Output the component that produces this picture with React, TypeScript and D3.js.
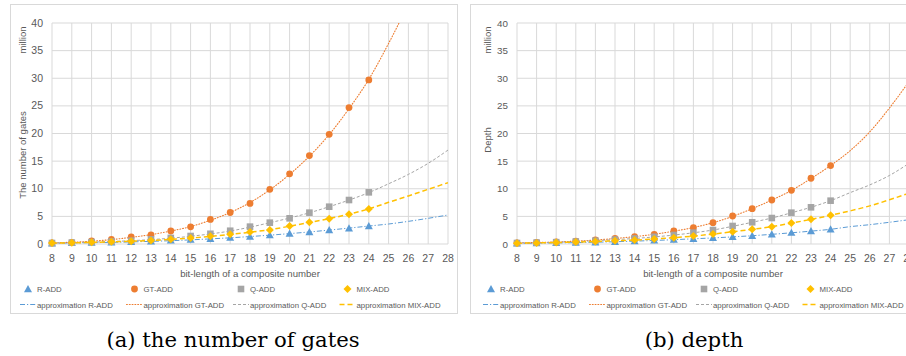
import React from "react";
import * as d3 from "d3";

// bit-lengths with measured values, and the range of the approximations
const bitsMeasured = [8, 9, 10, 11, 12, 13, 14, 15, 16, 17, 18, 19, 20, 21, 22, 23, 24];
const bitsApprox = [8, 9, 10, 11, 12, 13, 14, 15, 16, 17, 18, 19, 20, 21, 22, 23, 24, 25, 26, 27, 28];
const xTicks = bitsApprox;
const yTicks = [0, 5, 10, 15, 20, 25, 30, 35, 40];

// (a) number of gates, million
const gatesR = [0.14, 0.2, 0.25, 0.3, 0.4, 0.5, 0.65, 0.8, 0.95, 1.15, 1.35, 1.6, 1.9, 2.17, 2.53, 2.84, 3.26];
const gatesGT = [0.2, 0.3, 0.55, 0.85, 1.3, 1.65, 2.35, 3.1, 4.45, 5.7, 7.35, 9.9, 12.7, 16.0, 19.85, 24.7, 29.7];
const gatesQ = [0.18, 0.25, 0.35, 0.45, 0.6, 0.85, 1.1, 1.45, 1.85, 2.4, 3.14, 3.86, 4.65, 5.67, 6.75, 7.96, 9.35];
const gatesMIX = [0.16, 0.22, 0.3, 0.4, 0.5, 0.65, 0.85, 1.1, 1.4, 1.75, 2.17, 2.53, 3.26, 3.93, 4.58, 5.37, 6.33];
const gatesApproxR = [0.15, 0.19, 0.24, 0.3, 0.38, 0.48, 0.6, 0.75, 0.93, 1.12, 1.35, 1.6, 1.88, 2.18, 2.52, 2.88, 3.25, 3.62, 4.1, 4.65, 5.25];
const gatesApproxGT = [0.2, 0.32, 0.5, 0.8, 1.2, 1.7, 2.35, 3.15, 4.3, 5.7, 7.5, 9.8, 12.6, 15.9, 19.8, 24.5, 29.8, 36.3, 43.5, 51.5, 60];
const gatesApproxQ = [0.17, 0.24, 0.33, 0.45, 0.6, 0.8, 1.05, 1.4, 1.82, 2.35, 3.05, 3.85, 4.7, 5.65, 6.75, 7.95, 9.3, 10.9, 12.6, 14.6, 17.0];
const gatesApproxMIX = [0.15, 0.21, 0.29, 0.38, 0.5, 0.64, 0.84, 1.08, 1.38, 1.73, 2.13, 2.6, 3.22, 3.9, 4.6, 5.4, 6.35, 7.55, 8.7, 9.9, 11.1];

// (b) depth, million
const depthR = [0.12, 0.16, 0.2, 0.26, 0.33, 0.42, 0.52, 0.65, 0.8, 0.95, 1.1, 1.3, 1.5, 1.75, 2.05, 2.35, 2.66];
const depthGT = [0.2, 0.27, 0.38, 0.5, 0.72, 1.03, 1.33, 1.75, 2.35, 2.96, 3.86, 5.07, 6.4, 7.96, 9.72, 11.9, 14.2];
const depthQ = [0.18, 0.25, 0.33, 0.45, 0.6, 0.8, 1.0, 1.3, 1.63, 2.05, 2.53, 3.26, 3.93, 4.7, 5.67, 6.64, 7.84];
const depthMIX = [0.15, 0.2, 0.28, 0.36, 0.45, 0.58, 0.72, 0.9, 1.15, 1.45, 1.81, 2.23, 2.66, 3.14, 3.8, 4.47, 5.19];
const depthApproxR = [0.12, 0.15, 0.2, 0.25, 0.32, 0.41, 0.52, 0.64, 0.78, 0.94, 1.1, 1.29, 1.5, 1.75, 2.03, 2.33, 2.66, 3.14, 3.5, 3.93, 4.4];
const depthApproxGT = [0.2, 0.27, 0.37, 0.52, 0.72, 1.0, 1.33, 1.76, 2.32, 2.98, 3.85, 5.0, 6.4, 7.95, 9.7, 11.85, 14.2, 16.9, 20.3, 24.6, 29.4];
const depthApproxQ = [0.17, 0.24, 0.33, 0.44, 0.6, 0.79, 1.0, 1.28, 1.62, 2.03, 2.53, 3.2, 3.93, 4.7, 5.65, 6.65, 7.84, 9.3, 10.7, 12.4, 14.6];
const depthApproxMIX = [0.14, 0.19, 0.27, 0.35, 0.45, 0.57, 0.72, 0.9, 1.14, 1.43, 1.8, 2.22, 2.66, 3.14, 3.78, 4.45, 5.19, 6.0, 6.9, 8.0, 9.2];

const seriesNames = ["R-ADD", "GT-ADD", "Q-ADD", "MIX-ADD"];
const colors = ["#5B9BD5", "#ED7D31", "#A5A5A5", "#FFC000"];
const dashes = ["5,2,1.2,2", "0.9,1.9", "3,2", "5,3"];
const widths = [1, 1.1, 1, 1.5];
const markers = ["triangle", "circle", "square", "diamond"];

const FONT = "'Liberation Sans', Arial, sans-serif";
const TEXT = "#595959";

function Marker({ kind, x, y, color }: { kind: string; x: number; y: number; color: string }) {
  if (kind === "circle") return <circle cx={x} cy={y} r={3.4} fill={color} />;
  if (kind === "square") return <rect x={x - 3.3} y={y - 3.3} width={6.6} height={6.6} fill={color} />;
  if (kind === "diamond")
    return <path d={`M${x},${y - 4}L${x + 4},${y}L${x},${y + 4}L${x - 4},${y}Z`} fill={color} />;
  return <path d={`M${x},${y - 4}L${x + 4},${y + 3.2}L${x - 4},${y + 3.2}Z`} fill={color} />;
}

type PanelProps = {
  id: string;
  bx: number;
  plotX0: number;
  plotX1: number;
  yTitle: string;
  yTitleY: number;
  caption: string;
  captionX: number;
  measured: number[][];
  approx: number[][];
  yLabelSize: number;
  legendOffset: number;
};

function Panel(p: PanelProps) {
  const x = d3.scaleLinear().domain([8, 28]).range([p.plotX0, p.plotX1]);
  const y = d3.scaleLinear().domain([0, 40]).range([244, 23]);
  const line = d3
    .line<number>()
    .x((_, i) => x(bitsApprox[i]))
    .y((d) => y(d))
    .curve(d3.curveMonotoneX);
  const bw = 447;
  const cx = (p.plotX0 + p.plotX1) / 2;
  return (
    <g>
      <defs>
        <clipPath id={`clip-${p.id}`}>
          <rect x={p.plotX0} y={23} width={p.plotX1 - p.plotX0} height={221} />
        </clipPath>
      </defs>
      <rect x={p.bx + 0.5} y={4.5} width={bw} height={309} fill="#fff" stroke="#D9D9D9" />
      {/* grid */}
      {yTicks.map((t) => (
        <line key={"h" + t} x1={p.plotX0} x2={p.plotX1} y1={y(t)} y2={y(t)} stroke="#D9D9D9" />
      ))}
      {xTicks.map((t) => (
        <line key={"v" + t} x1={x(t)} x2={x(t)} y1={23} y2={244} stroke="#D9D9D9" />
      ))}
      {/* tick labels */}
      {yTicks.map((t) => (
        <text key={"yl" + t} x={p.plotX0 - 9} y={y(t) + 3.6} textAnchor="end" fontSize={p.yLabelSize} fill={TEXT} fontFamily={FONT}>
          {t}
        </text>
      ))}
      {xTicks.map((t) => (
        <text key={"xl" + t} x={x(t)} y={262} textAnchor="middle" fontSize={10.5} fill={TEXT} fontFamily={FONT}>
          {t}
        </text>
      ))}
      {/* axis titles */}
      <text transform={`translate(${p.plotX0 - 26},40) rotate(-90)`} textAnchor="middle" fontSize={9.5} fill={TEXT} fontFamily={FONT}>
        million
      </text>
      <text transform={`translate(${p.plotX0 - 26},${p.yTitleY}) rotate(-90)`} textAnchor="middle" fontSize={9.5} fill={TEXT} fontFamily={FONT}>
        {p.yTitle}
      </text>
      <text x={cx} y={277} textAnchor="middle" fontSize={9.6} fill={TEXT} fontFamily={FONT}>
        bit-length of a composite number
      </text>
      {/* approximation lines */}
      <g clipPath={`url(#clip-${p.id})`}>
        {p.approx.map((s, i) => (
          <path key={"a" + i} d={line(s) || ""} fill="none" stroke={colors[i]} strokeWidth={widths[i]} strokeDasharray={dashes[i]} strokeLinecap={i === 1 ? "round" : "butt"} />
        ))}
      </g>
      {/* measured markers */}
      {p.measured.map((s, i) =>
        s.map((v, j) => <Marker key={`m${i}-${j}`} kind={markers[i]} x={x(bitsMeasured[j])} y={y(v)} color={colors[i]} />)
      )}
      {/* legend */}
      {seriesNames.map((n, i) => {
        const mx = p.bx + p.legendOffset + i * 106.5;
        return (
          <g key={"lg" + i}>
            <Marker kind={markers[i]} x={mx} y={289} color={colors[i]} />
            <text x={mx + 9} y={292} fontSize={7.8} fill={TEXT} fontFamily={FONT}>
              {n}
            </text>
            <line x1={mx - 8} x2={mx + 8} y1={304.5} y2={304.5} stroke={colors[i]} strokeWidth={widths[i]} strokeDasharray={dashes[i]} strokeLinecap={i === 1 ? "round" : "butt"} />
            <text x={mx + 9} y={307.5} fontSize={7.8} fill={TEXT} fontFamily={FONT}>
              {"approximation " + n}
            </text>
          </g>
        );
      })}
      {/* caption */}
      <text x={p.captionX} y={347} textAnchor="middle" fontSize={21.2} fill="#000" fontFamily="'DejaVu Serif', serif">
        {p.caption}
      </text>
    </g>
  );
}

export default function App() {
  return (
    <svg width={906} height={356} style={{ position: "absolute", left: 0, top: 0, background: "#fff" }}>
      <rect width={906} height={356} fill="#fff" />
      <Panel
        id="a"
        bx={10}
        plotX0={52}
        plotX1={448}
        yTitle="The number of gates"
        yTitleY={155}
        caption="(a) the number of gates"
        captionX={233}
        measured={[gatesR, gatesGT, gatesQ, gatesMIX]}
        approx={[gatesApproxR, gatesApproxGT, gatesApproxQ, gatesApproxMIX]}
        yLabelSize={10.5}
        legendOffset={18}
      />
      <Panel
        id="b"
        bx={470}
        plotX0={517}
        plotX1={909}
        yTitle="Depth"
        yTitleY={140}
        caption="(b) depth"
        captionX={694}
        measured={[depthR, depthGT, depthQ, depthMIX]}
        approx={[depthApproxR, depthApproxGT, depthApproxQ, depthApproxMIX]}
        yLabelSize={9.8}
        legendOffset={21}
      />
    </svg>
  );
}
